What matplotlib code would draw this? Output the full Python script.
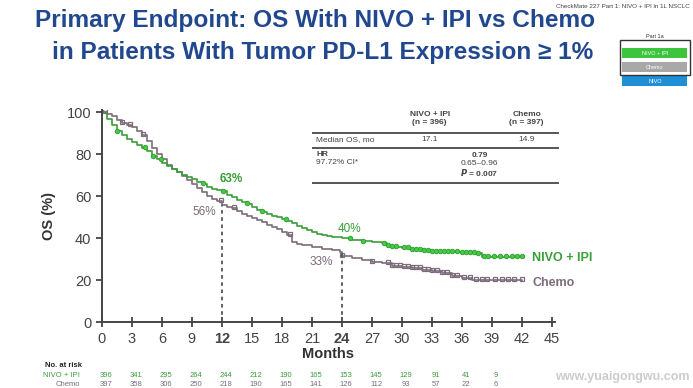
import numpy as np
import matplotlib
matplotlib.use("Agg")
import matplotlib.pyplot as plt
from matplotlib.patches import Rectangle

plt.rcParams['font.family'] = ['Liberation Sans', 'DejaVu Sans']

# KM curves (month, OS %)
nivo_t = [0, 0.5, 1, 1.5, 2, 2.5, 3, 3.5, 4, 4.5, 5, 5.5, 6, 6.5, 7, 7.5, 8, 8.5, 9, 9.5,
          10, 10.5, 11, 11.5, 12, 12.5, 13, 13.5, 14, 14.5, 15, 15.5, 16, 16.5, 17, 17.5,
          18, 18.5, 19, 19.5, 20, 20.5, 21, 21.5, 22, 22.5, 23, 24, 25, 26, 27, 28, 28.5,
          29, 30, 31, 32, 33, 34, 35, 36, 37, 37.5, 38, 42]
nivo_s = [100, 97, 94, 91, 89, 87.5, 86, 84.5, 83, 81.5, 79, 77.5, 76, 74.5, 73, 71.5, 70,
          69, 68, 67, 66, 64.5, 63.5, 62.8, 62.3, 60.5, 59.5, 58, 57, 56.3, 55, 53.5, 52.5,
          51.5, 50.5, 50, 49, 48.3, 47, 46, 45, 44, 43, 42, 41.5, 41, 40.5, 40, 39.2, 38.5,
          38.2, 37.5, 36.5, 36, 35.3, 34.6, 34.2, 33.8, 33.6, 33.4, 33.3, 33.1, 32.8, 31.2,
          31.2]
chemo_t = [0, 0.5, 1, 1.5, 2, 2.5, 3, 3.5, 4, 4.5, 5, 5.5, 6, 6.5, 7, 7.5, 8, 8.5, 9, 9.5,
           10, 10.5, 11, 11.5, 12, 12.5, 13, 13.5, 14, 14.5, 15, 15.5, 16, 16.5, 17, 17.5,
           18, 18.5, 19, 19.5, 20, 21, 22, 23, 23.8, 24, 25, 26, 27, 28, 29, 30, 31, 32, 33,
           34, 35, 36, 37, 42]
chemo_s = [100, 99, 98, 96.5, 95, 94, 93, 91, 89, 86.5, 83, 80, 77.5, 75, 73, 71.3, 69.5,
           67.8, 66, 64, 62, 60, 58.5, 57.5, 56, 55, 54.2, 53, 51.5, 50.5, 49.5, 48.5, 47.5,
           46.5, 45.5, 44.5, 43, 41.5, 38, 37, 36.5, 35.8, 35, 34.5, 33.6, 31.5, 30.5, 29.8,
           28.8, 28, 26.9, 26.2, 25.6, 25, 24.3, 23.3, 22, 20.8, 20.2, 19.8]

nivo_cens = [1.5, 4.3, 5.1, 5.9, 10.1, 12.1, 14.5, 16, 18.4, 24.8, 26.1, 28.2, 28.6, 29,
             29.4, 30.2, 30.6, 31, 31.4, 31.8, 32.2, 32.6, 33, 33.4, 33.8, 34.2, 34.6, 35,
             35.5, 36, 36.4, 36.8, 37.2, 37.6, 38.2, 38.6, 39.2, 39.8, 40.4, 41, 41.5, 42]
chemo_cens = [0.3, 2, 2.8, 4.1, 11.9, 13.2, 18.8, 24.0, 27, 28.6, 29, 29.4, 29.8, 30.2,
              30.6, 31, 31.4, 31.8, 32.2, 32.6, 33, 33.5, 34, 34.5, 35, 35.5, 36.2, 36.8,
              37.4, 38, 38.5, 39.3, 40, 40.6, 41.2, 42]

months = np.arange(0, 46, 3)
risk_nivo = ['396', '341', '295', '264', '244', '212', '190', '165', '153', '145', '129',
             '91', '41', '9']
risk_chemo = ['397', '358', '306', '250', '218', '190', '165', '141', '126', '112', '93',
              '57', '22', '6']

green = '#3a9e3a'
bright = '#3fcf3f'
gray = '#7b6c7a'
navy = '#21488f'


def step_at(t, s, x):
    t = np.asarray(t)
    idx = np.searchsorted(t, x, side='right') - 1
    return np.asarray(s)[idx]


fig = plt.figure(figsize=(6.93, 3.88), dpi=100)
ax = fig.add_axes([0.147, 0.170, 0.654, 0.546])

ax.plot(chemo_t, chemo_s, drawstyle='steps-post', color=gray, lw=1.2)
ax.plot(nivo_t, nivo_s, drawstyle='steps-post', color=green, lw=1.2)
cx = np.array(chemo_cens)
ax.plot(cx, step_at(chemo_t, chemo_s, cx) + 0.5, 's', ms=3.2, mfc='none', mec=gray, mew=0.9)
nx = np.array(nivo_cens)
ax.plot(nx, step_at(nivo_t, nivo_s, nx) + 0.3, 'o', ms=3.2, mfc=bright, mec=green, mew=0.7)

ax.plot([12, 12], [0, 56], ls=(0, (2, 2)), color='#555555', lw=1.3)
ax.plot([24, 24], [0, 33], ls=(0, (2, 2)), color='#555555', lw=1.3)
ax.text(11.8, 67, '63%', color=green, fontsize=8.5, fontweight='bold')
ax.text(9.1, 51, '56%', color=gray, fontsize=8.5)
ax.text(23.6, 43, '40%', color=green, fontsize=8.5)
ax.text(20.8, 27, '33%', color=gray, fontsize=8.5)
ax.text(43, 30.5, 'NIVO + IPI', color=green, fontsize=9, fontweight='bold', va='center')
ax.text(43, 18.5, 'Chemo', color=gray, fontsize=9, fontweight='bold', va='center')

ax.set_xlim(0, 45.3)
ax.set_ylim(0, 101)
ax.set_xticks(months)
ax.set_yticks(np.arange(0, 101, 20))
ax.spines['top'].set_visible(False)
ax.spines['right'].set_visible(False)
for sp in ['left', 'bottom']:
    ax.spines[sp].set_color('#444444')
    ax.spines[sp].set_linewidth(1.4)
ax.tick_params(axis='x', direction='inout', length=7, width=1.3, colors='#444444',
               labelsize=10.5, labelcolor='#444444')
ax.tick_params(axis='y', direction='out', length=4, width=1.3, colors='#444444',
               labelsize=10.5, labelcolor='#444444')
for lab in ax.get_xticklabels():
    if lab.get_text() in ('12', '24'):
        lab.set_fontweight('bold')
ax.set_xlabel('Months', fontsize=10.5, fontweight='bold', color='#333333', labelpad=1)
ax.set_ylabel('OS (%)', fontsize=10.5, fontweight='bold', color='#333333', labelpad=8)

# numbers at risk
fig.text(0.065, 0.057, 'No. at risk', fontsize=5.5, fontweight='bold', color='#222222',
         va='center')
for m, a, b in zip(months, risk_nivo, risk_chemo):
    xf = ax.transData.transform((m, 0))[0] / fig.bbox.width
    fig.text(xf + 0.006, 0.033, a, fontsize=5.5, color=green, ha='center', va='center')
    fig.text(xf + 0.006, 0.010, b, fontsize=5.5, color=gray, ha='center', va='center')
fig.text(0.115, 0.033, 'NIVO + IPI', fontsize=5.5, color=green, ha='right', va='center')
fig.text(0.115, 0.010, 'Chemo', fontsize=5.5, color=gray, ha='right', va='center')
fig.text(0.995, 0.028, 'www.yuaigongwu.com', fontsize=9, fontweight='bold', color='#cccccc',
         ha='right', va='center')

# title
fig.text(0.454, 0.946, 'Primary Endpoint: OS With NIVO + IPI vs Chemo', fontsize=17.6,
         fontweight='bold', color=navy, ha='center', va='center')
fig.text(0.465, 0.865, 'in Patients With Tumor PD-L1 Expression \u2265 1%', fontsize=17.6,
         fontweight='bold', color=navy, ha='center', va='center')
fig.text(0.995, 0.99, 'CheckMate 227 Part 1: NIVO + IPI in 1L NSCLC', fontsize=4.5,
         color='#444444', ha='right', va='top')

# little legend at top right
fig.text(0.945, 0.905, 'Part 1a', fontsize=4, color='#333333', ha='center', va='center')
boxes = [('NIVO + IPI', '#3cc43c', 0.862), ('Chemo', '#a8a8a8', 0.826), ('NIVO', '#1f8fd6', 0.79)]
for name, col, yb in boxes:
    fig.patches.append(Rectangle((0.898, yb - 0.012), 0.094, 0.026, transform=fig.transFigure,
                                 facecolor=col, edgecolor='none'))
    fig.text(0.945, yb + 0.001, name, fontsize=4, color='white', ha='center', va='center')
fig.patches.append(Rectangle((0.895, 0.807), 0.100, 0.09, transform=fig.transFigure,
                             facecolor='none', edgecolor='#333333', lw=1))

# table
tb = dict(transform=fig.transFigure, fontsize=6, color='#444444')
fig.text(0.620, 0.695, 'NIVO + IPI\n(n = 396)', ha='center', va='center',
         linespacing=1.1, fontweight='bold', **tb)
fig.text(0.760, 0.695, 'Chemo\n(n = 397)', ha='center', va='center',
         linespacing=1.1, fontweight='bold', **tb)
fig.text(0.456, 0.641, 'Median OS, mo', ha='left', va='center', **tb)
fig.text(0.620, 0.641, '17.1', ha='center', va='center', **tb)
fig.text(0.760, 0.641, '14.9', ha='center', va='center', **tb)
fig.text(0.456, 0.603, 'HR', ha='left', va='center', fontweight='bold', **tb)
fig.text(0.456, 0.582, '97.72% CI*', ha='left', va='center', **tb)
fig.text(0.692, 0.600, '0.79', ha='center', va='center', fontweight='bold', **tb)
fig.text(0.692, 0.579, '0.65\u20130.96', ha='center', va='center', **tb)
fig.text(0.692, 0.556, '$\\mathbfit{P}$ = 0.007', ha='center', va='center',
         fontweight='bold', **tb)
for yl, lw in [(0.658, 1.4), (0.619, 1.4), (0.528, 1.4)]:
    fig.add_artist(plt.Line2D([0.452, 0.805], [yl, yl], transform=fig.transFigure,
                              color='#555555', lw=lw))

fig.savefig('out.png', dpi=100)
